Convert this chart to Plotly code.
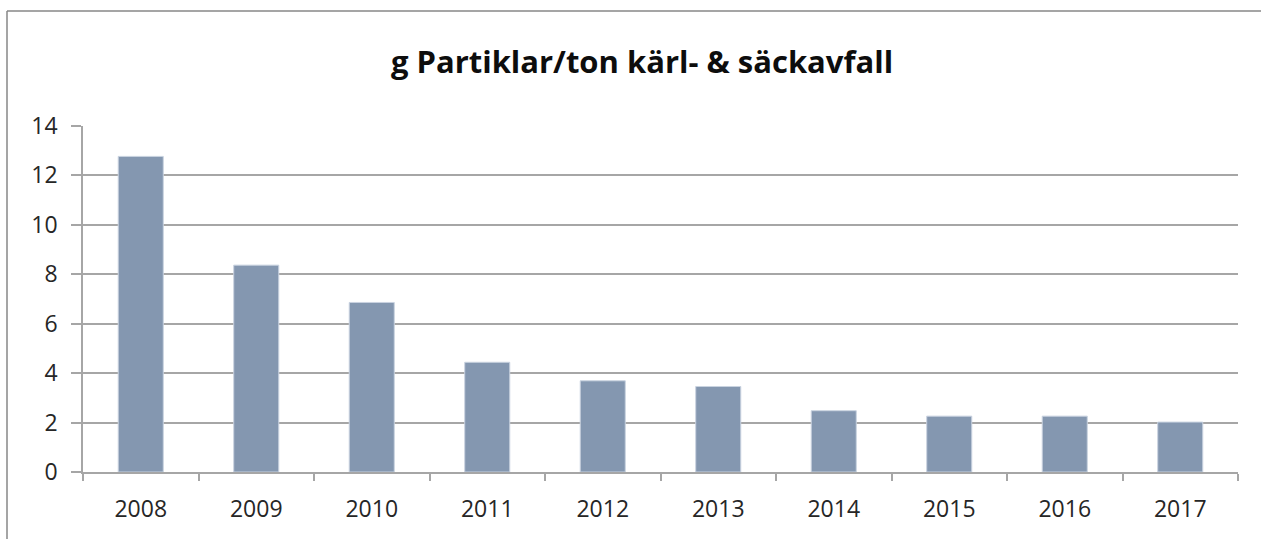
import plotly.graph_objects as go

years = ["2008", "2009", "2010", "2011", "2012", "2013", "2014", "2015", "2016", "2017"]
values = [12.77, 8.37, 6.86, 4.44, 3.69, 3.46, 2.48, 2.26, 2.26, 2.02]
y_ticks = [0, 2, 4, 6, 8, 10, 12, 14]
title_text = "g Partiklar/ton kärl- & säckavfall"

W, H = 1262, 539
L, R, T, B = 83, 24, 126, 67
pw, ph = W - L - R, H - T - B

def px_x(x):
    return (x - L) / pw

def px_y(y):
    return (H - B - y) / ph

fig = go.Figure()
fig.add_trace(go.Bar(
    x=years, y=values,
    marker=dict(color="#8497b0", line=dict(color="#c9d3e0", width=1)),
    width=0.39,
))

axis_color = "#a6a6a6"
frame_color = "#878787"
fig.update_layout(
    width=W, height=H,
    margin=dict(l=L, r=R, t=T, b=B, pad=0),
    paper_bgcolor="white", plot_bgcolor="white",
    showlegend=False,
    font=dict(family="Open Sans", color="#262626", size=23),
    title=dict(text="<b>" + title_text + "</b>", x=642 / W, xanchor="center",
               y=1 - 62 / H, yanchor="middle",
               font=dict(family="Open Sans", size=31, color="#0d0d0d")),
    xaxis=dict(
        type="category", tickson="boundaries", ticks="outside", ticklen=7,
        tickcolor=axis_color, tickwidth=1.5,
        showline=True, linecolor=axis_color, linewidth=1.5,
        showgrid=False, tickfont=dict(size=23, color="#262626"),
        ticklabelstandoff=16,
    ),
    yaxis=dict(
        range=[0, 14], tickvals=y_ticks, ticks="outside", ticklen=10,
        tickcolor=axis_color, tickwidth=1.5,
        showline=True, linecolor=axis_color, linewidth=1.5,
        showgrid=True, gridcolor=axis_color, gridwidth=1.5,
        zeroline=False, tickfont=dict(size=23, color="#262626"),
        ticklabelstandoff=9,
    ),
    shapes=[
        dict(type="line", xref="paper", yref="paper",
             x0=px_x(7), x1=px_x(7), y0=px_y(H + 5), y1=px_y(11),
             line=dict(color=frame_color, width=1.5), layer="below"),
        dict(type="line", xref="paper", yref="paper",
             x0=px_x(7), x1=px_x(W - 1), y0=px_y(11), y1=px_y(11),
             line=dict(color=frame_color, width=1.5), layer="below"),
    ],
)

fig.write_html("out.html", config={"displayModeBar": False},
               post_script="document.body.style.margin='0';document.body.style.overflow='hidden';document.documentElement.style.overflow='hidden';")
